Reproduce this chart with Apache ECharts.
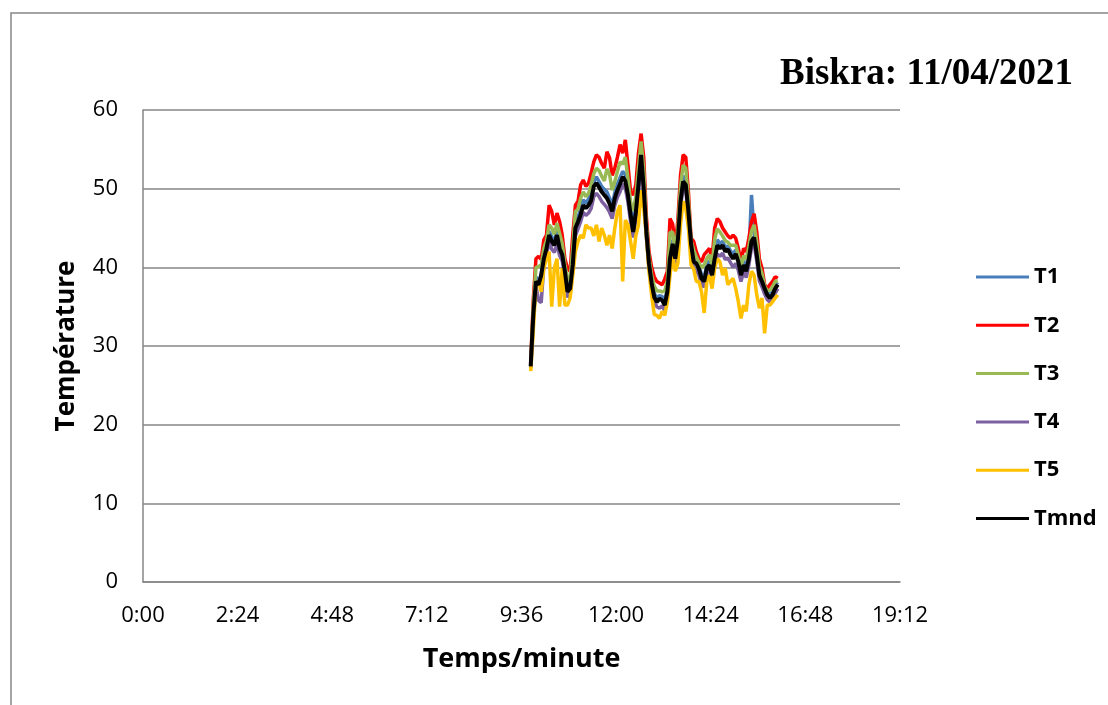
<!DOCTYPE html>
<html>
<head>
<meta charset="utf-8">
<title>Biskra: 11/04/2021</title>
<script src="https://cdn.jsdelivr.net/npm/echarts@6/dist/echarts.min.js"></script>
<style>
  html, body { margin: 0; padding: 0; background: #fff; }
  #chart { width: 1108px; height: 705px; }
</style>
</head>
<body>
<div id="chart"></div>
<script>
// temps en minutes depuis 0:00, un relevé toutes les 4 minutes (9:50 -> 16:06)
const startMin = 590;
const stepMin = 4;

const seriesNames = ['T1', 'T2', 'T3', 'T4', 'T5', 'Tmnd'];
const seriesColors = ['#4A7EBB', '#FF0000', '#98B954', '#7D60A0', '#FFC000', '#000000'];

const T1 = [
  27.5, 34.5, 38.8, 38.0, 39.2, 41.5, 42.8, 44.6, 43.9, 43.2, 44.8, 42.9, 42.0, 39.9, 37.4, 37.8, 41.0, 45.6, 46.4, 47.4, 48.6, 48.1, 48.7,
  49.3, 50.8, 51.5, 50.9, 50.3, 49.9, 49.6, 48.8, 47.9, 49.5, 50.6, 51.4, 52.2, 51.8, 50.0, 47.4, 45.4, 47.7, 51.3, 55.0, 50.8, 45.0, 40.9, 38.4, 36.7,
  36.1, 36.4, 36.3, 35.7, 37.4, 41.9, 43.5, 41.6, 44.1, 49.0, 51.6, 51.2, 47.8, 43.3, 41.2, 40.9, 40.2, 39.1, 38.7, 40.3, 40.8, 39.5, 41.8, 43.5, 43.0,
  43.3, 42.6, 42.7, 42.1, 41.7, 42.2, 41.2, 39.5, 40.8, 40.0, 41.6, 49.2, 44.5, 42.2, 39.5, 38.6, 37.6, 36.8, 36.5, 36.9, 37.7, 38.1
];
const T2 = [
  27.8, 36.0, 41.1, 41.4, 41.0, 43.5, 44.1, 47.9, 47.1, 45.4, 46.9, 45.8, 44.1, 41.1, 39.9, 39.5, 44.1, 47.9, 48.4, 50.5, 51.1, 50.3, 50.7,
  52.0, 53.4, 54.3, 54.0, 53.2, 52.6, 54.7, 53.9, 51.7, 52.6, 54.0, 55.6, 54.5, 56.2, 53.0, 49.6, 49.2, 50.5, 54.5, 57.0, 54.0, 46.5, 42.0, 40.0, 38.8,
  38.2, 38.0, 37.8, 38.5, 39.5, 46.2, 45.5, 42.8, 46.0, 51.7, 54.3, 54.0, 49.6, 43.7, 43.3, 42.0, 41.1, 40.7, 41.6, 42.0, 42.4, 41.0, 45.0, 46.2, 45.8,
  45.0, 44.5, 44.0, 43.7, 44.1, 43.7, 42.4, 40.7, 42.4, 42.0, 43.7, 45.8, 46.8, 44.5, 41.1, 39.9, 37.8, 37.3, 37.8, 38.2, 38.8, 38.6
];
const T3 = [
  27.6, 35.2, 40.0, 40.1, 40.3, 42.4, 43.4, 45.4, 45.0, 44.2, 45.6, 44.3, 43.0, 40.4, 38.4, 38.6, 42.5, 47.1, 47.4, 48.8, 49.6, 49.0, 49.4,
  50.5, 51.9, 52.6, 52.3, 51.6, 51.0, 52.5, 51.8, 49.8, 50.9, 52.2, 53.4, 53.1, 54.0, 51.3, 48.3, 47.2, 49.0, 52.7, 56.0, 52.4, 45.6, 41.3, 39.0, 37.6,
  37.0, 37.0, 36.9, 37.0, 38.3, 44.4, 44.5, 42.0, 45.0, 50.3, 53.0, 52.6, 48.6, 43.4, 42.2, 41.3, 40.6, 39.9, 40.3, 41.1, 41.6, 40.2, 43.6, 44.9, 44.5,
  44.0, 43.4, 43.2, 42.8, 42.8, 42.8, 41.6, 40.0, 41.5, 41.0, 42.6, 44.6, 45.4, 43.2, 40.2, 39.2, 37.6, 37.0, 37.1, 37.5, 38.2, 38.3
];
const T4 = [
  27.2, 33.5, 37.6, 35.8, 35.5, 40.2, 41.6, 43.2, 42.3, 41.9, 43.0, 41.5, 40.8, 38.7, 36.2, 36.6, 39.6, 44.0, 44.9, 45.8, 47.0, 46.6, 46.9,
  47.5, 49.0, 49.4, 49.0, 48.4, 48.0, 47.6, 47.0, 46.2, 47.9, 48.9, 49.6, 50.6, 50.1, 48.3, 45.8, 43.8, 46.2, 49.6, 53.4, 49.2, 43.9, 40.0, 37.4, 35.7,
  35.0, 34.8, 35.1, 34.5, 36.3, 40.4, 42.3, 40.5, 42.9, 47.6, 50.2, 49.8, 46.5, 42.4, 40.0, 39.6, 39.0, 37.8, 37.5, 39.2, 39.6, 38.3, 40.3, 41.7, 41.4,
  41.8, 41.0, 41.2, 40.6, 40.0, 40.5, 39.6, 38.2, 39.4, 38.7, 40.3, 42.5, 42.9, 40.8, 38.3, 37.5, 36.6, 35.9, 35.6, 35.9, 36.7, 37.3
];
const T5 = [
  26.8, 32.0, 37.8, 38.2, 36.9, 39.9, 41.1, 42.0, 35.0, 39.9, 41.1, 35.0, 39.9, 35.2, 35.2, 36.1, 39.0, 42.0, 43.3, 44.1, 43.7, 45.4, 45.0,
  45.0, 44.0, 45.4, 43.3, 45.0, 44.1, 42.8, 44.1, 42.4, 45.0, 47.1, 47.9, 38.2, 46.0, 45.4, 43.3, 41.1, 44.0, 45.4, 49.8, 47.5, 44.0, 39.5, 36.5, 34.0,
  33.9, 33.5, 34.4, 33.9, 35.6, 39.0, 41.5, 39.5, 40.5, 45.5, 48.4, 47.5, 45.0, 40.3, 39.8, 38.2, 38.2, 36.9, 34.2, 38.2, 39.0, 37.3, 39.9, 41.1, 40.7,
  39.0, 39.9, 37.8, 38.2, 38.6, 37.3, 35.6, 33.5, 35.2, 34.4, 37.8, 39.5, 39.0, 36.5, 34.8, 36.1, 31.6, 35.2, 35.2, 35.6, 36.1, 36.5
];
const Tmnd = [
  27.4, 34.0, 38.2, 37.8, 39.0, 41.1, 42.4, 44.1, 43.3, 42.8, 44.1, 42.4, 41.6, 39.5, 36.9, 37.3, 40.3, 45.0, 45.8, 46.7, 47.9, 47.5, 47.9,
  48.5, 50.3, 50.7, 50.2, 49.6, 49.2, 48.8, 48.1, 47.1, 48.8, 49.8, 50.6, 51.5, 51.0, 49.2, 46.7, 44.5, 47.0, 50.5, 54.3, 50.0, 44.5, 40.5, 38.0, 36.2,
  35.6, 36.0, 35.8, 35.2, 36.9, 41.1, 43.0, 41.1, 43.5, 48.4, 50.9, 50.5, 47.1, 43.0, 40.7, 40.5, 39.8, 38.6, 38.2, 39.9, 40.3, 39.0, 41.1, 42.8, 42.4,
  42.8, 42.0, 42.3, 41.6, 41.1, 41.7, 40.7, 39.0, 40.3, 39.5, 41.1, 43.3, 43.8, 41.6, 39.0, 38.2, 37.3, 36.5, 36.1, 36.5, 37.3, 37.8
];

const allValues = [T1, T2, T3, T4, T5, Tmnd];
const minutes = Tmnd.map((v, i) => startMin + i * stepMin);

function hhmm (m) {
    const h = Math.floor(m / 60);
    const mm = Math.round(m % 60);
    return h + ':' + (mm < 10 ? '0' + mm : mm);
}

const chart = echarts.init(document.getElementById('chart'));
const axisGray = '#868686';

const option = {
    backgroundColor: '#ffffff',
    animation: false,
    graphic: [{
        type: 'rect',
        shape: { x: 11, y: 13, width: 1200, height: 800 },
        style: { fill: 'none', stroke: axisGray, lineWidth: 1.5 },
        silent: true
    }],
    title: {
        text: 'Biskra: 11/04/2021',
        left: 775,
        top: 51,
        textStyle: {
            fontFamily: 'Liberation Serif',
            fontWeight: 'bold',
            fontSize: 37,
            color: '#000'
        }
    },
    legend: {
        orient: 'vertical',
        left: 971,
        top: 260,
        itemWidth: 53,
        itemHeight: 24,
        itemGap: 24.3,
        data: seriesNames.map((n, i) => ({
            name: n,
            itemStyle: { color: seriesColors[i] },
            icon: 'path://M0,11 L53,11 L53,14 L0,14 Z'
        })),
        textStyle: {
            fontFamily: 'Open Sans',
            fontWeight: 'bold',
            fontSize: 22,
            lineHeight: 24,
            color: '#000'
        }
    },
    grid: {
        left: 143,
        right: 208,
        top: 110,
        bottom: 123,
        containLabel: false
    },
    xAxis: {
        type: 'value',
        min: 0,
        max: 1152,
        interval: 144,
        name: 'Temps/minute',
        nameLocation: 'middle',
        nameGap: 64,
        nameTextStyle: {
            fontFamily: 'Open Sans',
            fontWeight: 'bold',
            fontSize: 27,
            color: '#000'
        },
        axisLine: { show: true, lineStyle: { color: axisGray, width: 1.5 } },
        axisTick: { show: false },
        splitLine: { show: false },
        axisLabel: {
            margin: 23,
            fontFamily: 'Open Sans',
            fontSize: 22,
            color: '#000',
            formatter: hhmm
        }
    },
    yAxis: {
        type: 'value',
        min: 0,
        max: 60,
        interval: 10,
        name: 'Température',
        nameLocation: 'middle',
        nameGap: 63,
        nameTextStyle: {
            fontFamily: 'Open Sans',
            fontWeight: 'bold',
            fontSize: 26,
            color: '#000'
        },
        axisLine: { show: true, lineStyle: { color: axisGray, width: 1.5 } },
        axisTick: { show: false },
        splitLine: { show: true, lineStyle: { color: axisGray, width: 1.5 } },
        axisLabel: {
            margin: 25,
            fontFamily: 'Open Sans',
            fontSize: 22,
            color: '#000'
        }
    },
    series: seriesNames.map((n, i) => ({
        name: n,
        type: 'line',
        showSymbol: false,
        symbol: 'none',
        color: seriesColors[i],
        lineStyle: { width: n === 'Tmnd' ? 4 : 3.5, color: seriesColors[i] },
        data: allValues[i].map((v, k) => [minutes[k], v])
    }))
};

chart.setOption(option);
window.addEventListener('resize', chart.resize);
</script>
</body>
</html>
